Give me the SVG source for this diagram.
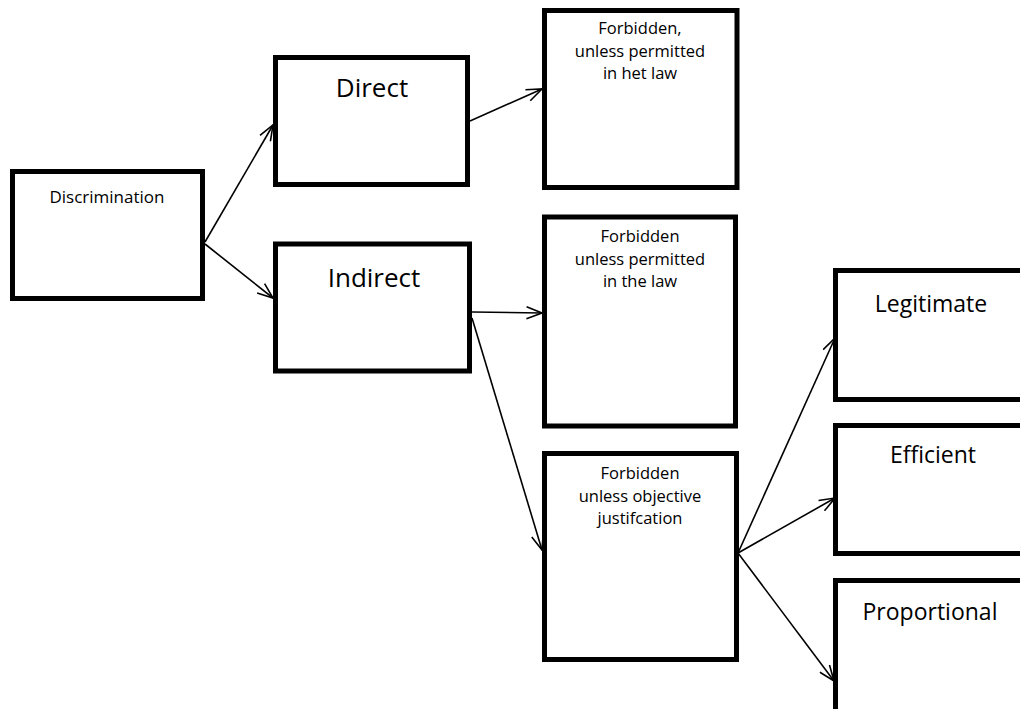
<svg xmlns="http://www.w3.org/2000/svg" width="1020" height="709" viewBox="0 0 1020 709">
<defs>
<style>
.box{fill:#fff;stroke:#000;stroke-width:5}
.t{font-family:"Open Sans",Lato,"Liberation Sans",sans-serif;fill:#000;text-anchor:middle}
.m{font-size:16.5px}
.d{font-size:17px}
.l{font-size:26px}
.r{font-size:23px}
.c{fill:none;stroke:#000;stroke-width:1.6}
</style>
<marker id="arr" markerUnits="userSpaceOnUse" viewBox="0 0 17 14" refX="16.5" refY="7" markerWidth="17" markerHeight="14" orient="auto">
<path d="M1,1 L16.5,7 L1,13" fill="none" stroke="#000" stroke-width="1.6"/>
</marker>
</defs>
<rect width="1020" height="709" fill="#fff"/>
<g id="connectors">
<line class="c" x1="205" y1="242" x2="273" y2="125" marker-end="url(#arr)"/>
<line class="c" x1="205" y1="244" x2="273" y2="298" marker-end="url(#arr)"/>
<line class="c" x1="470" y1="121" x2="542" y2="89" marker-end="url(#arr)"/>
<line class="c" x1="472" y1="312" x2="542" y2="313" marker-end="url(#arr)"/>
<line class="c" x1="472" y1="318" x2="542" y2="550" marker-end="url(#arr)"/>
<line class="c" x1="738" y1="553" x2="835" y2="338" marker-end="url(#arr)"/>
<line class="c" x1="738" y1="553" x2="835" y2="498" marker-end="url(#arr)"/>
<line class="c" x1="738" y1="553" x2="834" y2="681" marker-end="url(#arr)"/>
</g>
<g id="discrimination">
<rect class="box" x="12.5" y="171.5" width="190" height="127"/>
<text class="t d" x="107" y="203">Discrimination</text>
</g>
<g id="direct">
<rect class="box" x="275.5" y="57.5" width="192" height="127"/>
<text class="t l" x="372" y="97">Direct</text>
</g>
<g id="indirect">
<rect class="box" x="275.5" y="244" width="194" height="127"/>
<text class="t l" x="374" y="287">Indirect</text>
</g>
<g id="forbidden-direct">
<rect class="box" x="544.5" y="10.5" width="192.5" height="177"/>
<text class="t m" x="640"><tspan x="640" y="34">Forbidden,</tspan><tspan x="640" y="56.5">unless permitted</tspan><tspan x="640" y="79">in het law</tspan></text>
</g>
<g id="forbidden-law">
<rect class="box" x="544.5" y="217" width="191" height="209"/>
<text class="t m" x="640"><tspan x="640" y="242">Forbidden</tspan><tspan x="640" y="264.5">unless permitted</tspan><tspan x="640" y="287">in the law</tspan></text>
</g>
<g id="forbidden-objective">
<rect class="box" x="544.5" y="453.5" width="192" height="206"/>
<text class="t m" x="640"><tspan x="640" y="479">Forbidden</tspan><tspan x="640" y="501.5">unless objective</tspan><tspan x="640" y="524">justifcation</tspan></text>
</g>
<g id="legitimate">
<rect class="box" x="835.5" y="270.5" width="200" height="129"/>
<text class="t r" x="931" y="312">Legitimate</text>
</g>
<g id="efficient">
<rect class="box" x="835.5" y="425.5" width="200" height="128"/>
<text class="t r" x="933" y="463">Efficient</text>
</g>
<g id="proportional">
<rect class="box" x="835.5" y="580.5" width="200" height="140"/>
<text class="t r" x="930" y="620">Proportional</text>
</g>
</svg>
